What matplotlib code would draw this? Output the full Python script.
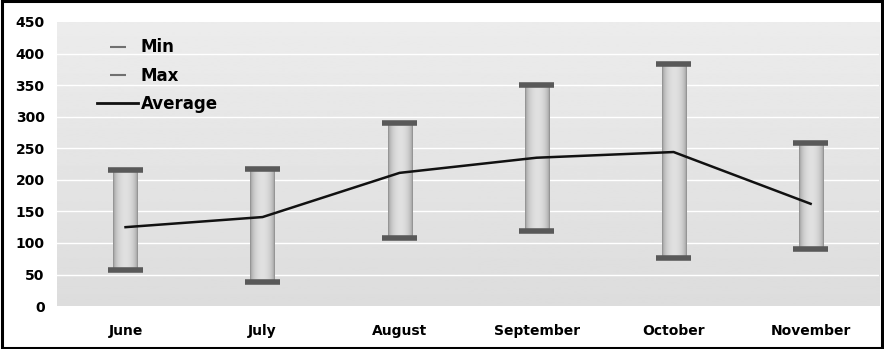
import matplotlib.pyplot as plt
import numpy as np
from matplotlib.lines import Line2D
from matplotlib.patches import Rectangle

plt.rcParams['font.family'] = ['DejaVu Sans']

# monthly readings
months = ['June', 'July', 'August', 'September', 'October', 'November']
min_vals = [57, 38, 108, 119, 76, 90]
max_vals = [215, 217, 290, 350, 383, 258]
avg_vals = [125, 141, 211, 235, 244, 162]

fig = plt.figure(figsize=(8.84, 3.49), dpi=100)
ax = fig.add_axes([0.0645, 0.123, 0.930, 0.814])

x = np.arange(len(months))
ax.set_xlim(-0.5, len(months) - 0.5)
ax.set_ylim(0, 450)

# soft vertical gradient behind the plot
bg = np.linspace(0.865, 0.925, 256).reshape(-1, 1)
ax.imshow(bg, cmap='gray', vmin=0, vmax=1, aspect='auto', origin='lower',
          extent=(0, 1, 0, 1), transform=ax.transAxes, zorder=0)

for y in range(50, 450, 50):
    ax.axhline(y, color='white', lw=1, zorder=1)

# cylinder-shaded range bars
t = np.linspace(-1, 1, 64)
shade = (0.52 + 0.36 * (1 - t ** 2) ** 0.5).reshape(1, -1)
half = 0.088
for xi, lo, hi in zip(x, min_vals, max_vals):
    ax.imshow(shade, cmap='gray', vmin=0, vmax=1, aspect='auto',
              extent=(xi - half, xi + half, lo, hi), zorder=2)

ax.hlines(min_vals, x - 0.128, x + 0.128, color='#595959', lw=4, zorder=3)
ax.hlines(max_vals, x - 0.128, x + 0.128, color='#595959', lw=4, zorder=3)
ax.plot(x, avg_vals, color='#111111', lw=1.8, zorder=4)

ax.set_xticks(x)
ax.set_xticklabels(months, fontsize=10, fontweight='bold')
ax.set_yticks(range(0, 451, 50))
ax.tick_params(axis='y', labelsize=10, length=0, pad=9)
ax.tick_params(axis='x', length=0, pad=13)
for lab in ax.get_yticklabels():
    lab.set_fontweight('bold')
for s in ax.spines.values():
    s.set_visible(False)

handles = [
    Line2D([], [], color='#707070', marker='_', markersize=11, mew=1.5, ls='none'),
    Line2D([], [], color='#707070', marker='_', markersize=11, mew=1.5, ls='none'),
    Line2D([], [], color='#111111', lw=2),
]
ax.legend(handles, ['Min', 'Max', 'Average'], loc='upper left', frameon=False,
          prop={'size': 12, 'weight': 'bold'}, handlelength=2.5, handletextpad=0.15,
          labelspacing=0.62, bbox_to_anchor=(0.03, 0.995))

fig.patches.append(Rectangle((0.002, 0.003), 0.996, 0.994, transform=fig.transFigure,
                             fill=False, edgecolor='black', lw=2.2))

fig.savefig('out.png', dpi=100)
